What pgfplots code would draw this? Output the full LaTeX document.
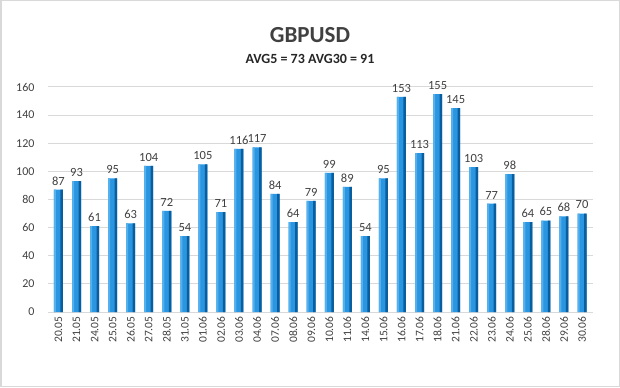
\documentclass[border=0pt]{standalone}
\usepackage{pgfplots}
\pgfplotsset{compat=1.18}
\usepackage{fontspec}
\setmainfont{Carlito}
\definecolor{barM}{HTML}{2A95E0}
\definecolor{barL}{HTML}{55B0EE}
\definecolor{barD}{HTML}{0B5E9E}
\definecolor{gridc}{HTML}{D9D9D9}
\definecolor{txt}{HTML}{404040}
\pgfplotstableread{
x y
0 87
1 93
2 61
3 95
4 63
5 104
6 72
7 54
8 105
9 71
10 116
11 117
12 84
13 64
14 79
15 99
16 89
17 54
18 95
19 153
20 113
21 155
22 145
23 103
24 77
25 98
26 64
27 65
28 68
29 70
}\data
\begin{document}
\begin{tikzpicture}[x=1bp,y=1bp]
\path[use as bounding box] (0,0) rectangle (620,387);
\draw[color=gridc,line width=1.5bp] (0.75,0.75) rectangle (619.25,386.25);
\node[font=\bfseries\fontsize{23bp}{25bp}\selectfont, text=txt] at (310,352) {GBPUSD};
\node[font=\bfseries\fontsize{14bp}{16bp}\selectfont, text=black!85] at (310,328) {AVG5 = 73 AVG30 = 91};
\begin{axis}[
  at={(48bp,75bp)}, anchor=south west,
  scale only axis, width=545bp, height=225bp,
  xmin=-0.58, xmax=29.61, ymin=0, ymax=160,
  axis line style={draw=none},
  ytick={0,20,...,160},
  ymajorgrids, grid style={color=gridc, line width=1bp},
  major tick length=0pt,
  xtick={0,...,29},
  xticklabels={20.05,21.05,24.05,25.05,26.05,27.05,28.05,31.05,01.06,02.06,03.06,04.06,07.06,08.06,09.06,10.06,11.06,14.06,15.06,16.06,17.06,18.06,21.06,22.06,23.06,24.06,25.06,28.06,29.06,30.06},
  x tick label style={rotate=90, anchor=east, font=\fontsize{11.5bp}{13bp}\selectfont, text=txt, yshift=0bp, xshift=-1bp},
  y tick label style={font=\fontsize{12bp}{14bp}\selectfont, text=txt, xshift=-10bp},
  /pgf/number format/assume math mode=true,
  clip=false,
]
\addplot[ybar, bar width=9bp, bar shift=0bp, draw=none, fill=barM,
  nodes near coords,
  every node near coord/.append style={font=\fontsize{12.5bp}{14bp}\selectfont, text=txt, yshift=1bp}] table[x=x,y=y] {\data};
\addplot[ybar, bar width=2.5bp, bar shift=3.25bp, draw=none, fill=barD] table[x=x,y=y] {\data};
\addplot[ybar, bar width=2bp, bar shift=-3.5bp, draw=none, fill=barL] table[x=x,y=y] {\data};
\end{axis}
\end{tikzpicture}
\end{document}
